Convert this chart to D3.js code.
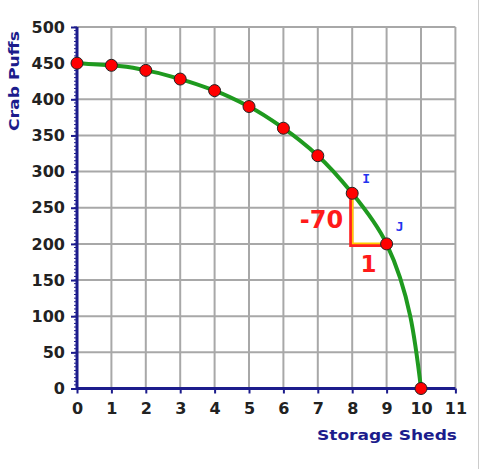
<!DOCTYPE html>
<html><head><meta charset="utf-8">
<script src="https://cdn.jsdelivr.net/npm/d3@7"></script>
<style>body{margin:0;background:#fff}svg{display:block}</style>
</head><body>
<script>
const shedTicks = [0,1,2,3,4,5,6,7,8,9,10,11];
const puffTicks = [0,50,100,150,200,250,300,350,400,450,500];
const sheds = [0,1,2,3,4,5,6,7,8,9,10];
const puffs = [450,447,440,428,412,390,360,322,270,200,0];
const slopeFrom = {x:8, y:270, label:"I"};
const slopeTo = {x:9, y:200, label:"J"};
const riseLabel = "-70", runLabel = "1";

const W=483,H=469;
const svg=d3.select("body").append("svg").attr("width",W).attr("height",H);
const x=d3.scaleLinear().domain([0,11]).range([77,455.4]);
const y=d3.scaleLinear().domain([0,500]).range([388.5,27]);
const FONT="'DejaVu Sans', Verdana, sans-serif";
const NAVY="#1c1c8c";

// right border line
svg.append("line").attr("x1",478.5).attr("x2",478.5).attr("y1",0).attr("y2",H).attr("stroke","#ccc").attr("stroke-width",1);

// grid
const g=svg.append("g");
g.selectAll(".vg").data(shedTicks.filter(d=>d>0)).join("line")
 .attr("x1",d=>x(d)).attr("x2",d=>x(d)).attr("y1",y(500)).attr("y2",y(0))
 .attr("stroke","#a8a8a8").attr("stroke-width",2);
g.selectAll(".hg").data(puffTicks.filter(d=>d>0)).join("line")
 .attr("x1",x(0)).attr("x2",x(11)).attr("y1",d=>y(d)).attr("y2",d=>y(d))
 .attr("stroke","#a8a8a8").attr("stroke-width",2);

// minor ticks on y axis
g.selectAll(".mt").data(d3.range(0,501,5)).join("line")
 .attr("x1",x(0)-3).attr("x2",x(0)).attr("y1",d=>y(d)).attr("y2",d=>y(d))
 .attr("stroke",NAVY).attr("stroke-width",1);

// axes
const yAxis=d3.axisLeft(y).tickValues(puffTicks).tickSize(6).tickPadding(6);
const xAxis=d3.axisBottom(x).tickValues(shedTicks).tickSize(5).tickPadding(9.5);
const ya=svg.append("g").attr("transform",`translate(${x(0)},0)`).call(yAxis);
const xa=svg.append("g").attr("transform",`translate(0,${y(0)})`).call(xAxis);
[ya,xa].forEach(a=>{
  a.select(".domain").attr("stroke",NAVY).attr("stroke-width",3);
  a.selectAll(".tick line").attr("stroke",NAVY).attr("stroke-width",2);
  a.selectAll(".tick text").attr("fill","#222").attr("font-family",FONT).attr("font-weight","bold").attr("font-size",16);
});
xa.select(".domain").attr("d",`M${x(0)},0H${x(11)}`);
ya.select(".domain").attr("d",`M0,${y(0)}V${y(500)}`);

// axis titles
svg.append("text").attr("x",317).attr("y",439.5)
 .attr("textLength",140).attr("lengthAdjust","spacingAndGlyphs")
 .attr("font-family",FONT).attr("font-weight","bold").attr("font-size",14).attr("fill",NAVY).text("Storage Sheds");
svg.append("text").attr("transform","translate(18.5,131) rotate(-90)")
 .attr("textLength",100).attr("lengthAdjust","spacingAndGlyphs")
 .attr("font-family",FONT).attr("font-weight","bold").attr("font-size",14).attr("fill",NAVY).text("Crab Puffs");

// curve
const pts=sheds.map((s,i)=>({x:s,y:puffs[i]}));
svg.append("path").datum(pts)
 .attr("d",d3.line().x(d=>x(d.x)).y(d=>y(d.y)).curve(d3.curveMonotoneY))
 .attr("fill","none").attr("stroke","#1f9a1f").attr("stroke-width",4);

// slope triangle
const tri=`M${x(slopeFrom.x)},${y(slopeFrom.y)}V${y(slopeTo.y)}H${x(slopeTo.x)}`;
svg.append("path").attr("d",tri).attr("fill","none").attr("stroke","#ff2020").attr("stroke-width",4).attr("transform","translate(-1,1)");
svg.append("path").attr("d",tri).attr("fill","none").attr("stroke","#ffcc00").attr("stroke-width",1.6).attr("transform","translate(0.5,-0.5)");

// points
svg.selectAll(".pt").data(pts).join("circle")
 .attr("cx",d=>x(d.x)).attr("cy",d=>y(d.y)).attr("r",6)
 .attr("fill","#ff0000").attr("stroke","#222").attr("stroke-width",1);

// labels
svg.append("text").attr("x",x(slopeFrom.x)-9).attr("y",y(slopeTo.y)-16).attr("text-anchor","end")
 .attr("font-family",FONT).attr("font-weight","bold").attr("font-size",24).attr("fill","#ff1a1a").text(riseLabel);
svg.append("text").attr("x",(x(slopeFrom.x)+x(slopeTo.x))/2-1).attr("y",y(slopeTo.y)+28).attr("text-anchor","middle")
 .attr("font-family",FONT).attr("font-weight","bold").attr("font-size",23).attr("fill","#ff1a1a").text(runLabel);
const MONO="'DejaVu Sans Mono', monospace";
svg.append("text").attr("x",x(slopeFrom.x)+14).attr("y",y(slopeFrom.y)-10).attr("text-anchor","middle")
 .attr("font-family",MONO).attr("font-weight","bold").attr("font-size",13).attr("fill","#2233ee").text(slopeFrom.label);
svg.append("text").attr("x",x(slopeTo.x)+13).attr("y",y(slopeTo.y)-13).attr("text-anchor","middle")
 .attr("font-family",MONO).attr("font-weight","bold").attr("font-size",13).attr("fill","#2233ee").text(slopeTo.label);
</script>
</body></html>
